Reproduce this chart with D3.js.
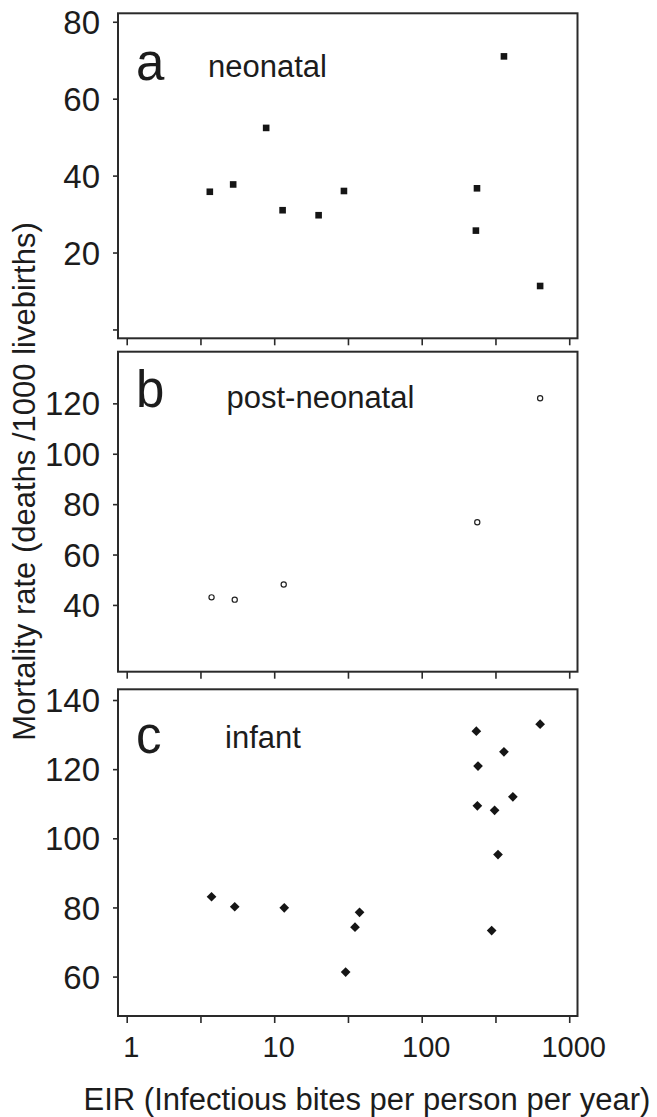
<!DOCTYPE html>
<html>
<head>
<meta charset="utf-8">
<script src="https://cdn.jsdelivr.net/npm/d3@7"></script>
<style>
  body { margin: 0; background: #fff; }
  svg { display: block; }
  .frame { fill: none; stroke: #2a2a2a; stroke-width: 2; }
  .tick line { stroke: #2a2a2a; stroke-width: 1.6; }
  .yax text { font-family: "Liberation Sans Narrow", "Arial Narrow", sans-serif; font-size: 33px; fill: #1c1c1c; }
  .xax text { font-family: "Liberation Sans", Arial, sans-serif; font-size: 29px; fill: #1c1c1c; }
  .letter { font-family: "Liberation Sans", Arial, sans-serif; font-size: 51px; fill: #1c1c1c; }
  .name { font-family: "Liberation Sans", Arial, sans-serif; font-size: 31px; fill: #1c1c1c; }
  .title { font-family: "Liberation Sans", Arial, sans-serif; font-size: 31px; fill: #1c1c1c; }
</style>
</head>
<body>
<svg id="chart" width="657" height="1117"></svg>
<script>
// EIR (x) and mortality rate (y) per panel
let neonatalEIR = [3.66, 5.27, 8.82, 11.4, 20.0, 29.7, 237, 233, 361, 635];
let neonatalRate = [35.8, 37.7, 52.4, 31.0, 29.7, 36.0, 36.7, 25.7, 71.0, 11.3];

let postEIR = [3.76, 5.40, 11.6, 238, 635];
let postRate = [43.0, 42.1, 48.1, 72.8, 122.0];

let infantEIR = [3.76, 5.40, 11.7, 30.5, 35.3, 37.9, 234.6, 240.8, 238.4, 361, 415, 312, 329, 298, 635];
let infantRate = [83.1, 80.2, 79.9, 61.3, 74.3, 78.6, 131.0, 120.9, 109.4, 125.0, 112.0, 108.1, 95.3, 73.3, 133.0];

let xTicks = [1, 3.1623, 10, 31.623, 100, 316.23, 1000];
let xLabels = [1, 10, 100, 1000];

let svg = d3.select("#chart");

let left = 118, right = 577.5;
let x = d3.scaleLog().domain([0.873, 1138]).range([left, right]);

let panels = [
    { letter: "a", name: "neonatal", xs: neonatalEIR, ys: neonatalRate, top: 13.3, bottom: 338.3,
      domain: [-2.3, 82.2], ticks: [0, 20, 40, 60, 80], marker: "square",
      letterY: 80, nameX: 208, nameY: 77.3, labels: false },
    { letter: "b", name: "post-neonatal", xs: postEIR, ys: postRate, top: 351.7, bottom: 671.7,
      domain: [13.5, 140.5], ticks: [40, 60, 80, 100, 120], marker: "circle",
      letterY: 406.7, nameX: 226.5, nameY: 408, labels: false },
    { letter: "c", name: "infant", xs: infantEIR, ys: infantRate, top: 689.3, bottom: 1016,
      domain: [48.6, 143.1], ticks: [60, 80, 100, 120, 140], marker: "diamond",
      letterY: 753, nameX: 225, nameY: 748.3, labels: true }
];

panels.forEach(function(p) {
    let y = d3.scaleLinear().domain(p.domain).range([p.bottom, p.top]);

    // y axis ticks outside the frame
    let yAxis = d3.axisLeft(y)
        .tickValues(p.ticks)
        .tickSize(5)
        .tickPadding(13)
        .tickFormat(d => d === 0 ? "" : d);
    let gy = svg.append("g").attr("class", "yax").attr("transform", "translate(" + left + ",0)").call(yAxis);
    gy.select(".domain").remove();
    gy.selectAll("text").attr("dy", "0.35em");

    // x axis ticks under the frame
    let xAxis = d3.axisBottom(x)
        .tickValues(xTicks)
        .tickSize(7)
        .tickPadding(13)
        .tickFormat(d => (p.labels && xLabels.includes(d)) ? d : "");
    let gx = svg.append("g").attr("class", "xax").attr("transform", "translate(0," + p.bottom + ")").call(xAxis);
    gx.select(".domain").remove();
    gx.selectAll("text").attr("dx", 4);

    // frame
    svg.append("rect")
        .attr("class", "frame")
        .attr("x", left).attr("y", p.top)
        .attr("width", right - left).attr("height", p.bottom - p.top);

    svg.append("text").attr("class", "letter").attr("x", 136).attr("y", p.letterY).text(p.letter);
    svg.append("text").attr("class", "name").attr("x", p.nameX).attr("y", p.nameY).text(p.name);

    let pts = p.xs.map((v, i) => ({ x: v, y: p.ys[i] }));
    let g = svg.append("g");
    if (p.marker === "square") {
        g.selectAll("rect").data(pts).enter().append("rect")
            .attr("x", d => x(d.x) - 3.3).attr("y", d => y(d.y) - 3.3)
            .attr("width", 6.6).attr("height", 6.6)
            .attr("fill", "#151515");
    } else if (p.marker === "circle") {
        g.selectAll("circle").data(pts).enter().append("circle")
            .attr("cx", d => x(d.x)).attr("cy", d => y(d.y)).attr("r", 2.6)
            .attr("fill", "none").attr("stroke", "#222").attr("stroke-width", 1.2);
    } else {
        g.selectAll("path").data(pts).enter().append("path")
            .attr("d", d3.symbol(d3.symbolDiamond2, 60))
            .attr("transform", d => "translate(" + x(d.x) + "," + y(d.y) + ")")
            .attr("fill", "#151515");
    }
});

// axis titles
svg.append("text")
    .attr("class", "title")
    .attr("transform", "translate(35,481.5) rotate(-90)")
    .attr("text-anchor", "middle")
    .text("Mortality rate (deaths /1000 livebirths)");

svg.append("text")
    .attr("class", "title")
    .attr("x", 367).attr("y", 1110)
    .attr("text-anchor", "middle")
    .text("EIR (Infectious bites per person per year)");
</script>
</body>
</html>
